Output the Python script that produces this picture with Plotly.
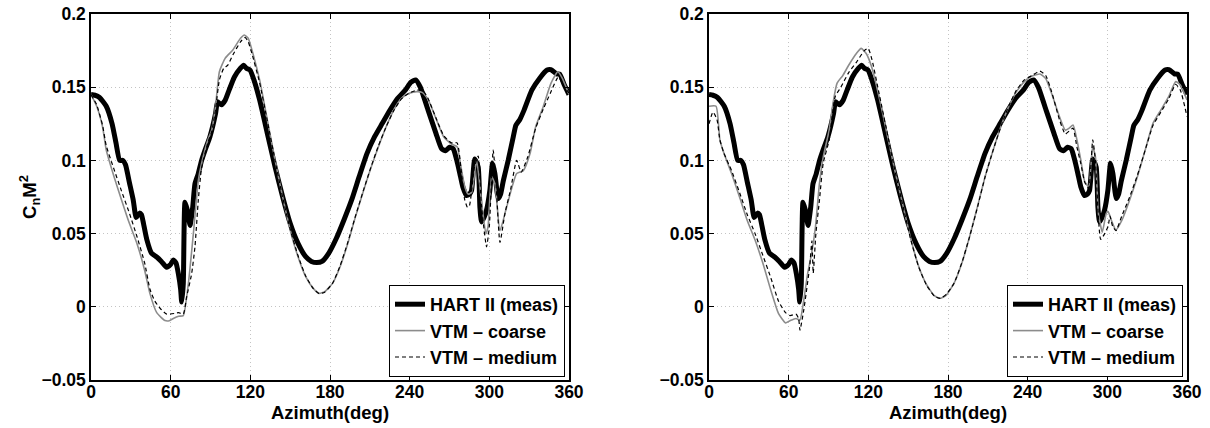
import plotly.graph_objects as go

# ---------------- data ----------------
hart_az = [0, 3, 6.4, 11.5, 15.9, 18.8, 21.6, 24, 26, 28.9,
           31.8, 34, 36.5, 38, 39.5, 42, 45.6, 49.5, 53, 57,
           60, 62, 64, 65.8, 67.5, 68.3, 69.5, 70.8, 72.6, 74.6,
           76.6, 78.3, 80.8, 83.3, 85.9, 89.5, 93.8, 95.3, 98.2, 101,
           104, 108, 112.6, 115, 117, 119.8, 122.7, 127, 132.8, 138.6,
           144.3, 150, 155.9, 161.7, 166, 170, 174, 179, 184.8, 190.5,
           196.3, 202, 207.9, 213.6, 219.4, 225.2, 231, 236.7, 241, 244.5,
           248, 254, 259.8, 264, 267, 270, 272.8, 275.5, 277.8, 280,
           282.8, 285, 286.6, 289, 291.6, 292.9, 294.1, 296, 297.9, 300.4,
           302.4, 304.2, 306.7, 308.5, 310.5, 314.2, 318, 320, 323, 326,
           332, 337.8, 343.5, 346.4, 350.7, 353, 356.5, 360]
hart_val = [0.145, 0.1445, 0.143, 0.137, 0.125, 0.112, 0.100, 0.100, 0.097, 0.085,
            0.073, 0.061, 0.064, 0.063, 0.057, 0.046, 0.0365, 0.034, 0.031, 0.027,
            0.029, 0.032, 0.030, 0.0226, 0.012, 0.0032, 0.0157, 0.0715, 0.066, 0.0556,
            0.068, 0.084, 0.091, 0.100, 0.107, 0.116, 0.132, 0.140, 0.138, 0.141,
            0.148, 0.157, 0.163, 0.165, 0.163, 0.1617, 0.155, 0.1413, 0.1185, 0.0957,
            0.0752, 0.057, 0.0433, 0.0342, 0.031, 0.0302, 0.031, 0.0365, 0.0468, 0.0593,
            0.073, 0.089, 0.1048, 0.1162, 0.1253, 0.1344, 0.1424, 0.148, 0.1535, 0.155,
            0.150, 0.134, 0.1185, 0.108, 0.1066, 0.109, 0.108, 0.100, 0.091, 0.082,
            0.076, 0.077, 0.0795, 0.101, 0.0955, 0.068, 0.058, 0.061, 0.066, 0.0795,
            0.098, 0.091, 0.074, 0.077, 0.086, 0.100, 0.116, 0.124, 0.128, 0.134,
            0.148, 0.156, 0.1617, 0.162, 0.159, 0.159, 0.1515, 0.145]

coarse_l_az = [0, 4.3, 8.7, 11.5, 17.3, 23, 28.9, 34.6, 40.4, 44.4,
               49.5, 55.7, 59, 62, 66, 69.5, 73.3, 77.1, 80.8, 83.3,
               88, 91, 93.8, 96.7, 101, 106.8, 112.6, 115.5, 118.4, 121.2,
               127, 132.8, 138.6, 144.3, 150, 155.9, 161.7, 167.4, 171.8, 176,
               181.9, 187.6, 193.4, 199.2, 205, 210.7, 216.5, 222.3, 228, 233.8,
               239.6, 245.4, 249.7, 254, 259.8, 265.6, 271.4, 275.7, 278.6, 281.5,
               284, 286.6, 290.4, 294, 297.4, 299, 301.7, 304.2, 308, 313,
               320.6, 325.6, 330.6, 334.9, 340.6, 346.4, 351.6, 355, 360]
coarse_l_val = [0.145, 0.137, 0.123, 0.107, 0.089, 0.073, 0.057, 0.0433, 0.025, 0.009,
                -0.004, -0.0094, -0.0095, -0.008, -0.0065, -0.006, 0.0157, 0.05, 0.086, 0.098,
                0.114, 0.121, 0.137, 0.1606, 0.1697, 0.1754, 0.1834, 0.1857, 0.1834, 0.1754,
                0.155, 0.1276, 0.1003, 0.0752, 0.0525, 0.0342, 0.0206, 0.0126, 0.0092, 0.0103,
                0.016, 0.0274, 0.0433, 0.0616, 0.0786, 0.0946, 0.1094, 0.123, 0.1344, 0.1424,
                0.1458, 0.147, 0.1463, 0.1413, 0.1287, 0.1162, 0.1112, 0.1094, 0.0957, 0.082,
                0.077, 0.078, 0.100, 0.073, 0.050, 0.0545, 0.089, 0.084, 0.052, 0.068,
                0.091, 0.093, 0.1045, 0.123, 0.1367, 0.1526, 0.1606, 0.156, 0.145]

medium_l_az = [0, 4.3, 8.7, 11.5, 17.3, 23, 28.9, 34.6, 40.4, 44.4,
               48, 52, 57, 63.3, 66, 69.5, 72, 75.8, 78.3, 80.8,
               83.3, 88, 91, 93.8, 96.7, 100, 103, 106.8, 112.6, 116,
               118.4, 121.2, 127, 132.8, 138.6, 144.3, 150, 155.9, 161.7, 167.4,
               171.8, 176, 181.9, 187.6, 193.4, 199.2, 205, 210.7, 216.5, 222.3,
               228, 233.8, 239.6, 245.4, 249.7, 254, 259.8, 265.6, 271.4, 275.7,
               278.6, 281.5, 283.5, 285, 288.7, 291.6, 294, 297.9, 300, 302.9,
               305, 308, 311.8, 316, 320.6, 324, 329, 334.9, 340.6, 346,
               352, 356.5, 360]
medium_l_val = [0.145, 0.138, 0.124, 0.110, 0.094, 0.079, 0.064, 0.048, 0.030, 0.012,
                0.004, -0.001, -0.005, -0.0045, -0.004, -0.005, 0.0066, 0.0226, 0.041, 0.0727,
                0.095, 0.112, 0.120, 0.135, 0.155, 0.163, 0.165, 0.172, 0.181, 0.184,
                0.181, 0.173, 0.153, 0.127, 0.100, 0.075, 0.053, 0.035, 0.021, 0.0125,
                0.009, 0.010, 0.016, 0.028, 0.044, 0.062, 0.079, 0.095, 0.110, 0.123,
                0.134, 0.142, 0.146, 0.148, 0.148, 0.142, 0.129, 0.117, 0.112, 0.112,
                0.095, 0.073, 0.068, 0.069, 0.095, 0.103, 0.070, 0.041, 0.055, 0.107,
                0.085, 0.044, 0.064, 0.080, 0.100, 0.092, 0.1025, 0.122, 0.135, 0.146,
                0.157, 0.150, 0.146]

coarse_r_az = [0, 5.3, 8.2, 11.2, 17, 23, 28.8, 34.7, 40.6, 46.5,
               52.3, 57.6, 61, 65.5, 68.5, 71.4, 74.3, 77.3, 80.2, 83.2,
               86.1, 90.5, 93.4, 96.4, 100.8, 105.2, 111, 114.6, 118.4, 122.8,
               128.7, 134.6, 140.5, 146.3, 152.2, 158, 164, 169.9, 174.3, 178.7,
               184.5, 190.4, 196.3, 202.2, 208, 214, 219.8, 225.7, 231.6, 237.5,
               243.3, 249.2, 253.6, 258, 263.9, 268.3, 271.2, 274.2, 277.1, 280,
               283, 286, 288.9, 291, 293.3, 296.2, 299.2, 300.6, 303.5, 306.5,
               310.9, 316.8, 322.7, 328.5, 334.4, 340.3, 346.2, 351.5, 355, 360]
coarse_r_val = [0.137, 0.137, 0.114, 0.105, 0.091, 0.075, 0.059, 0.0456, 0.0297, 0.0115,
                -0.0045, -0.011, -0.0095, -0.008, -0.009, 0.0046, 0.0228, 0.0365, 0.0547, 0.0843,
                0.1025, 0.1207, 0.139, 0.1526, 0.158, 0.165, 0.173, 0.1765, 0.173, 0.163,
                0.141, 0.116, 0.091, 0.0684, 0.0456, 0.0274, 0.0149, 0.0074, 0.0058, 0.008,
                0.016, 0.0297, 0.048, 0.0684, 0.089, 0.107, 0.123, 0.1367, 0.147, 0.1538,
                0.1576, 0.159, 0.156, 0.1458, 0.1299, 0.1207, 0.122, 0.1242, 0.114, 0.1003,
                0.0855, 0.082, 0.1094, 0.1025, 0.0638, 0.051, 0.0638, 0.065, 0.058, 0.0525,
                0.059, 0.073, 0.089, 0.107, 0.1253, 0.1344, 0.1435, 0.1538, 0.1515, 0.1413]

medium_r_az = [0, 3, 6, 8.2, 11.2, 17, 23, 28.8, 34.7, 40.6,
               46.5, 52.3, 57.6, 61, 65.5, 67.5, 68.5, 71.4, 75.8, 77.5,
               78.5, 80.5, 83.2, 86, 90.5, 95, 99.3, 105.2, 111, 117,
               119.9, 122.8, 128.7, 134.6, 140.5, 146.3, 152.2, 158, 164, 169.9,
               174.3, 178.7, 184.5, 190.4, 196.3, 202.2, 208, 214, 219.8, 225.7,
               231.6, 237.5, 243.3, 249.2, 253.6, 258, 263.9, 268.3, 271.2, 274.2,
               277.1, 280, 283, 286, 289, 291, 295, 298, 300.6, 302,
               304, 306.5, 310.9, 316.8, 322.7, 328.5, 334.4, 340.3, 346.2, 351.5,
               355, 360]
medium_r_val = [0.125, 0.133, 0.128, 0.114, 0.105, 0.093, 0.078, 0.063, 0.050, 0.035,
                0.020, 0.004, -0.004, -0.006, -0.005, -0.008, -0.016, -0.002, 0.0274, 0.045,
                0.023, 0.050, 0.073, 0.098, 0.114, 0.1435, 0.150, 0.160, 0.167, 0.175,
                0.1765, 0.1686, 0.143, 0.117, 0.091, 0.068, 0.045, 0.027, 0.0145, 0.0072,
                0.0058, 0.0085, 0.016, 0.030, 0.048, 0.068, 0.089, 0.107, 0.123, 0.137,
                0.148, 0.155, 0.158, 0.161, 0.158, 0.147, 0.128, 0.118, 0.120, 0.122,
                0.109, 0.098, 0.085, 0.081, 0.114, 0.100, 0.046, 0.050, 0.055, 0.062,
                0.055, 0.052, 0.062, 0.075, 0.090, 0.107, 0.124, 0.133, 0.142, 0.152,
                0.148, 0.130]

x_ticks = [0, 60, 120, 180, 240, 300, 360]
x_ticktext = ["0", "60", "120", "180", "240", "300", "360"]
y_ticks = [-0.05, 0, 0.05, 0.1, 0.15, 0.2]
y_ticktext = ["\u22120.05", "0", "0.05", "0.1", "0.15", "0.2"]
names = ["HART II (meas)", "VTM \u2013 coarse", "VTM \u2013 medium"]

# ---------------- figure ----------------
FONT = "Liberation Sans, Arial, Helvetica, sans-serif"
W, H = 1210, 428

def b(s):
    return "<b>" + s + "</b>"

fig = go.Figure()

styles = [dict(color="black", width=5, shape="spline", smoothing=0.5),
          dict(color="#8c8c8c", width=1.6, shape="spline", smoothing=0.5),
          dict(color="black", width=1.2, dash="4px,3px", shape="spline", smoothing=0.5)]

panels = [
    ("x", "y", "legend", [(hart_az, hart_val), (coarse_l_az, coarse_l_val), (medium_l_az, medium_l_val)]),
    ("x2", "y2", "legend2", [(hart_az, hart_val), (coarse_r_az, coarse_r_val), (medium_r_az, medium_r_val)]),
]
for xa, ya, lg, series in panels:
    for (az, val), nm, st in zip(series, names, styles):
        fig.add_trace(go.Scatter(x=az, y=val, mode="lines", name=b(nm), line=st,
                                 xaxis=xa, yaxis=ya, legend=lg, showlegend=True))

ax_common = dict(
    showline=True, linecolor="black", linewidth=1.5, mirror="ticks",
    ticks="inside", ticklen=5, tickwidth=1, tickcolor="black",
    showgrid=True, gridcolor="#c4c4c4", gridwidth=1, griddash="1px,3px",
    zeroline=False, automargin=False,
    tickfont=dict(family=FONT, size=17.5, color="black"),
)

def xax(domain):
    return dict(ax_common, domain=domain, range=[0, 360], tickvals=x_ticks,
                ticktext=[b(t) for t in x_ticktext], ticklabelstandoff=-5,
                title=dict(text=b("Azimuth(deg)"), standoff=0,
                           font=dict(family=FONT, size=18.5, color="black")))

def yax(anchor, title):
    d = dict(ax_common, domain=[48 / H, 1 - 14 / H], range=[-0.05, 0.2],
             tickvals=y_ticks, ticktext=[b(t) for t in y_ticktext], anchor=anchor)
    if title:
        d["title"] = dict(text=title, standoff=0,
                          font=dict(family=FONT, size=18.5, color="black"))
    return d

leg_common = dict(bgcolor="white", bordercolor="black", borderwidth=1,
                  font=dict(family=FONT, size=18, color="black"),
                  xanchor="right", yanchor="bottom", tracegroupgap=0,
                  itemwidth=30)

fig.update_layout(
    width=W, height=H,
    margin=dict(l=0, r=0, t=0, b=0, autoexpand=False),
    paper_bgcolor="white", plot_bgcolor="white",
    xaxis=xax([91 / W, 569 / W]),
    yaxis=yax("x", b("C<sub>n</sub>M<sup>2</sup>")),
    xaxis2=dict(xax([709 / W, 1187 / W]), anchor="y2"),
    yaxis2=yax("x2", None),
    legend=dict(leg_common, x=565 / W, y=(H - 377) / H),
    legend2=dict(leg_common, x=1183 / W, y=(H - 377) / H),
)

fig.write_html("out.html", config={"displayModeBar": False},
               post_script="document.body.style.margin='0';document.body.style.padding='0';")
